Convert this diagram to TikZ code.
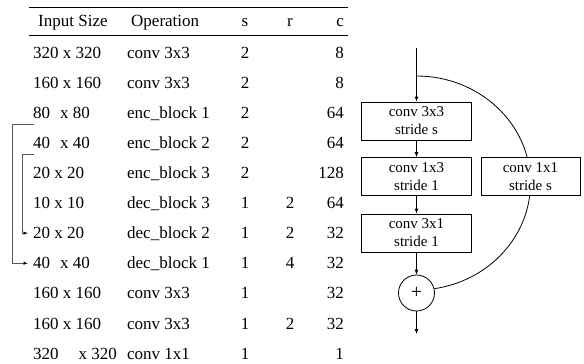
\documentclass[tikz,border=0pt]{standalone}
\usepackage{fontspec}
\setmainfont{Liberation Serif}
\usetikzlibrary{arrows.meta}

\begin{document}
\begin{tikzpicture}[x=1pt,y=1pt,
  cell/.style={inner sep=0pt,font=\fontsize{17}{20}\selectfont},
  blk/.style={draw,fill=white,line width=0.8pt,minimum width=110pt,minimum height=38pt,inner sep=0pt,align=center,font=\fontsize{15}{18}\selectfont},
  tip/.style={-{Latex[length=5pt,width=4pt]},line width=0.8pt},
  skip/.style={-{Latex[length=4.5pt,width=3.5pt,color=black]},draw=gray!70!black,line width=0.8pt}]

  \useasboundingbox (0,0) rectangle (584,-364);

  % table
  \draw[line width=1pt] (29,-7) -- (348,-7);
  \draw[line width=1pt] (29,-35) -- (348,-35);
  \node[cell,anchor=base west] (h-sz) at (38,-26) {Input Size};
  \node[cell,anchor=base west] (h-op) at (131,-26) {Operation};
  \node[cell,anchor=base] (h-s) at (245,-26) {s};
  \node[cell,anchor=base] (h-r) at (290,-26) {r};
  \node[cell,anchor=base east] (h-c) at (344,-26) {c};

  \foreach \sz/\op/\sv/\rv/\cv [count=\i] in {
      320 x 320/conv 3x3/2//8,
      160 x 160/conv 3x3/2//8,
      80\hspace{10pt}x 80/enc\_block 1/2//64,
      40\hspace{10pt}x 40/enc\_block 2/2//64,
      20 x 20/enc\_block 3/2//128,
      10 x 10/dec\_block 3/1/2/64,
      20 x 20/dec\_block 2/1/2/32,
      40\hspace{10pt}x 40/dec\_block 1/1/4/32,
      160 x 160/conv 3x3/1//32,
      160 x 160/conv 3x3/1/2/32,
      320\hspace{20pt}x 320/conv 1x1/1//1}
  {
    \pgfmathsetmacro\yy{-28-30.1*\i}
    \node[cell,anchor=base west] (sz-\i) at (33,\yy) {\sz};
    \node[cell,anchor=base west] (op-\i) at (127,\yy) {\op};
    \node[cell,anchor=base] (s-\i) at (245,\yy) {\sv};
    \node[cell,anchor=base] (r-\i) at (290,\yy) {\rv};
    \node[cell,anchor=base east] (c-\i) at (344,\yy) {\cv};
  }

  % skip connections
  \coordinate (e2) at (34,-124);
  \coordinate (e3) at (34,-154);
  \draw[skip] (e2) -- ++(-22,0) |- ([xshift=-5pt]sz-8.west);
  \draw[skip] (e3) -- ++(-12,0) |- ([xshift=-5pt]sz-7.west);

  % block
  \coordinate (in) at (416.5,-48);
  \coordinate (split) at (416.5,-76);
  \coordinate (out) at (416.5,-334);
  \draw[line width=0.8pt] (split) arc[start angle=90,end angle=-81,x radius=114,y radius=107];

  \node[blk] (conv1) at (416.5,-121) {conv 3x3\\stride s};
  \node[blk] (conv2) at (416.5,-176.5) {conv 1x3\\stride 1};
  \node[blk] (conv3) at (416.5,-233) {conv 3x1\\stride 1};
  \node[blk,minimum width=99pt] (short) at (530.5,-176.5) {conv 1x1\\stride s};
  \node[draw,fill=white,circle,minimum size=36pt,inner sep=0pt,line width=0.8pt,font=\fontsize{20}{22}\selectfont] (sum) at (416.5,-293) {+};

  \draw[tip] (in) -- (conv1);
  \draw[tip] (conv1) -- (conv2);
  \draw[tip] (conv2) -- (conv3);
  \draw[tip] (conv3) -- (sum);
  \draw[tip] (sum) -- (out);
\end{tikzpicture}
\end{document}
